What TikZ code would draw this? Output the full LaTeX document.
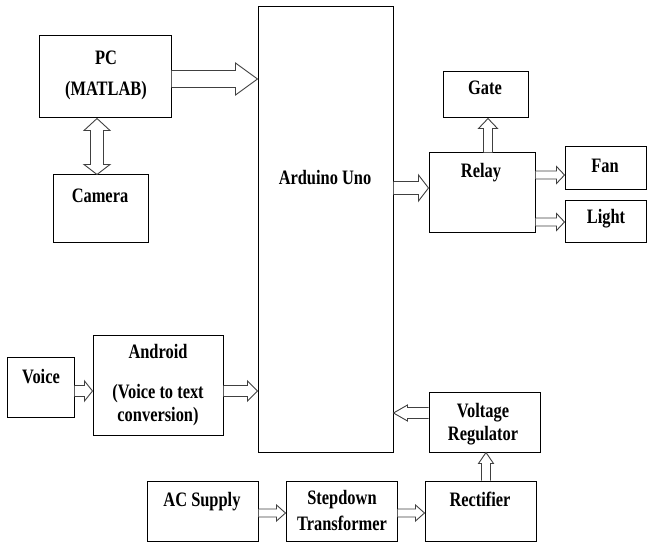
\documentclass[tikz,border=0pt]{standalone}
\usepackage{fontspec}
\setmainfont{Liberation Serif}
\newfontfamily\lbl[FakeStretch=0.8]{Liberation Serif}
\usetikzlibrary{calc}
\tikzset{
  box/.style={draw=black, line width=1pt, inner sep=0pt, rectangle},
  txt/.style={font=\lbl\bfseries\fontsize{20.5}{22}\selectfont, anchor=base, inner sep=0pt, text=black},
  arr/.style={draw=black!75, line width=0.9pt, fill=white, line join=miter}
}
% horizontal block arrow, right pointing: from node #1 east to node #2 west at y=#3
% #4 shaft half, #5 head half, #6 head length
\newcommand\rarr[6]{%
  \draw[arr] let \p1=(#1.east), \p2=(#2.west) in
    (\x1,#3+#4) -- (\x2-#6,#3+#4) -- (\x2-#6,#3+#5) -- (\x2,#3) --
    (\x2-#6,#3-#5) -- (\x2-#6,#3-#4) -- (\x1,#3-#4);}
% left pointing: from node #1 west to node #2 east
\newcommand\larr[6]{%
  \draw[arr] let \p1=(#1.west), \p2=(#2.east) in
    (\x1,#3+#4) -- (\x2+#6,#3+#4) -- (\x2+#6,#3+#5) -- (\x2,#3) --
    (\x2+#6,#3-#5) -- (\x2+#6,#3-#4) -- (\x1,#3-#4);}
% up pointing: from node #1 north to node #2 south at x=#3
\newcommand\uarr[6]{%
  \draw[arr] let \p1=(#1.north), \p2=(#2.south) in
    (#3-#4,\y1) -- (#3-#4,\y2-#6) -- (#3-#5,\y2-#6) -- (#3,\y2) --
    (#3+#5,\y2-#6) -- (#3+#4,\y2-#6) -- (#3+#4,\y1);}
\begin{document}
\begin{tikzpicture}[x=1pt,y=1pt]
\useasboundingbox (0,0) rectangle (648,542);
% boxes
\node[box, minimum width=135, minimum height=445] (ard) at (325.5,312.5) {};
\node[box, minimum width=132, minimum height=82] (pc) at (105,465) {};
\node[box, minimum width=95, minimum height=67] (cam) at (100.5,333.5) {};
\node[box, minimum width=85, minimum height=46] (gate) at (485.5,447) {};
\node[box, minimum width=106, minimum height=79] (relay) at (482,349.5) {};
\node[box, minimum width=81, minimum height=42] (fan) at (605.5,374) {};
\node[box, minimum width=81, minimum height=42] (light) at (605.5,321) {};
\node[box, minimum width=67, minimum height=60] (voice) at (40.5,155) {};
\node[box, minimum width=130, minimum height=100] (andr) at (158,157) {};
\node[box, minimum width=111, minimum height=60] (vr) at (484.5,120) {};
\node[box, minimum width=111, minimum height=60] (rect) at (480.5,31) {};
\node[box, minimum width=111, minimum height=60] (step) at (341.5,31) {};
\node[box, minimum width=111, minimum height=60] (ac) at (202.5,31) {};
% texts
\node[txt] (t1) at (325,358) {Arduino Uno};
\node[txt] (t2) at (106,477) {PC};
\node[txt] (t3) at (106,446) {(MATLAB)};
\node[txt] (t4) at (100,340) {Camera};
\node[txt] (t5) at (485,447) {Gate};
\node[txt] (t6) at (481,364) {Relay};
\node[txt] (t7) at (605,370) {Fan};
\node[txt] (t8) at (606,319) {Light};
\node[txt] (t9) at (41,159) {Voice};
\node[txt] (t10) at (158,184) {Android};
\node[txt] (t11) at (158,144) {(Voice to text};
\node[txt] (t12) at (158,121) {conversion)};
\node[txt] (t13) at (483,125) {Voltage};
\node[txt] (t14) at (483,102) {Regulator};
\node[txt] (t15) at (202,36) {AC Supply};
\node[txt] (t16) at (342,38) {Stepdown};
\node[txt] (t17) at (342,12) {Transformer};
\node[txt] (t18) at (480,36) {Rectifier};
% arrows
\rarr{pc}{ard}{463}{8.5}{16}{22}
\rarr{ard}{relay}{354}{6.5}{13}{10}
\rarr{relay}{fan}{367}{4}{8.5}{8}
\rarr{relay}{light}{320}{4}{8.5}{8}
\uarr{relay}{gate}{488}{4.5}{9.5}{10}
\rarr{voice}{andr}{151}{5.5}{10}{8}
\rarr{andr}{ard}{151}{5.5}{10}{10}
\larr{vr}{ard}{129}{5.5}{8}{14}
\uarr{rect}{vr}{486}{4.5}{7.5}{11}
\rarr{ac}{step}{29}{4}{8}{9}
\rarr{step}{rect}{29}{4}{8}{9}
% double arrow PC <-> Camera
\draw[arr] let \p1=(pc.south), \p2=(cam.north) in
  (97,\y1) -- (110,\y1-12) -- (103.5,\y1-12) -- (103.5,\y2+10) -- (110,\y2+10) -- (97,\y2)
  -- (84,\y2+10) -- (90.5,\y2+10) -- (90.5,\y1-12) -- (84,\y1-12) -- cycle;
\end{tikzpicture}
\end{document}
